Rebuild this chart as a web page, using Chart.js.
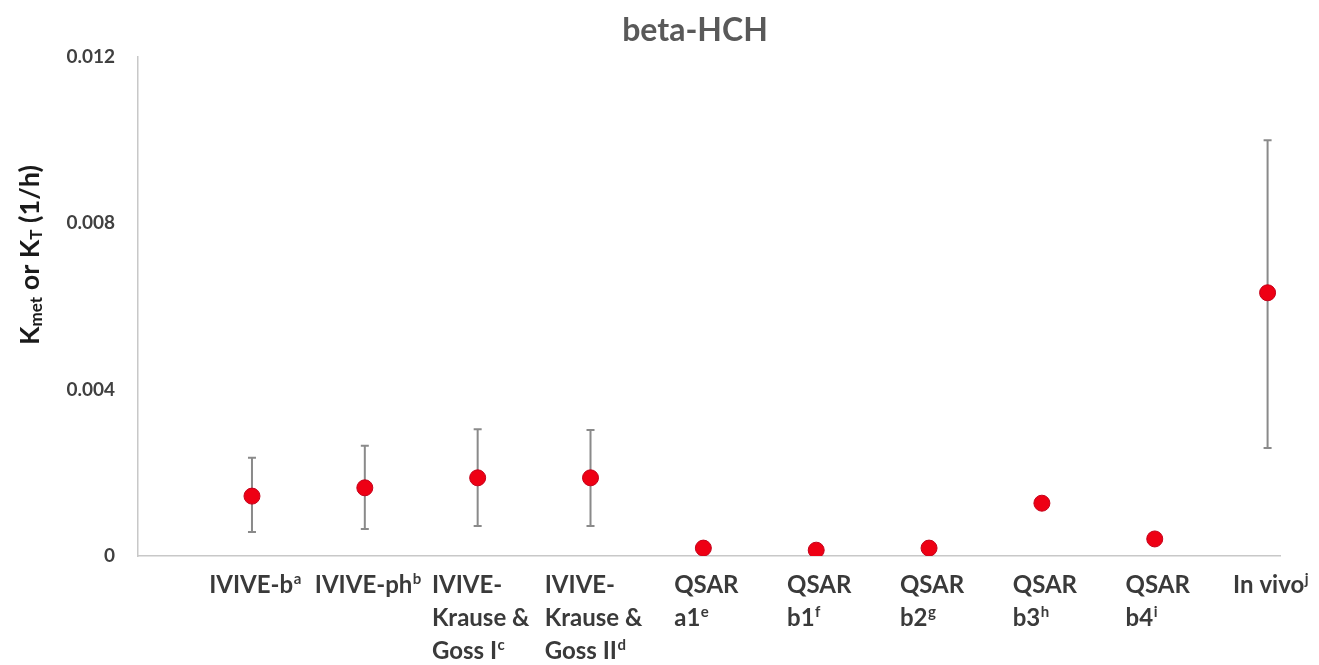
<!DOCTYPE html>
<html>
<head>
<meta charset="utf-8">
<script src="https://cdn.jsdelivr.net/npm/chart.js@4.4.1/dist/chart.umd.min.js"></script>
<style>
  html, body { margin: 0; padding: 0; background: #ffffff; }
  #wrap { width: 1319px; height: 665px; }
</style>
</head>
<body>
<div id="wrap"><canvas id="chart" width="1319" height="665"></canvas></div>
<script>
// Categories (lines separated by \n) and their footnote letters
const categories = [
  'IVIVE-b',
  'IVIVE-ph',
  'IVIVE-\nKrause &\nGoss I',
  'IVIVE-\nKrause &\nGoss II',
  'QSAR\na1',
  'QSAR\nb1',
  'QSAR\nb2',
  'QSAR\nb3',
  'QSAR\nb4',
  'In vivo'
];
const footnotes = ['a', 'b', 'c', 'd', 'e', 'f', 'g', 'h', 'i', 'j'];

// Kmet / KT estimates (1/h) with their ranges (null = no range)
const kValues = [0.00144, 0.00164, 0.00188, 0.00188, 0.00019, 0.00014, 0.00019, 0.00127, 0.00041, 0.00633];
const rangeLow = [0.00058, 0.00065, 0.00072, 0.00072, null, null, null, null, null, 0.00260];
const rangeHigh = [0.00236, 0.00265, 0.00305, 0.00303, null, null, null, null, null, 0.01000];

// Y axis ticks
const yTicks = [0, 0.004, 0.008, 0.012];

const chartTitle = 'beta-HCH';
const FONT = 'Lato, "Open Sans", sans-serif';

// Range whiskers behind the markers
const rangeBars = {
  id: 'rangeBars',
  beforeDatasetsDraw(chart) {
    const { ctx, scales: { x, y } } = chart;
    ctx.save();
    ctx.strokeStyle = '#8a8a8a';
    ctx.lineWidth = 2;
    kValues.forEach((v, i) => {
      if (rangeLow[i] === null) return;
      const px = x.getPixelForValue(i);
      const top = y.getPixelForValue(rangeHigh[i]);
      const bot = y.getPixelForValue(rangeLow[i]);
      ctx.beginPath();
      ctx.moveTo(px, top); ctx.lineTo(px, bot);
      ctx.moveTo(px - 4, top); ctx.lineTo(px + 4, top);
      ctx.moveTo(px - 4, bot); ctx.lineTo(px + 4, bot);
      ctx.stroke();
    });
    ctx.restore();
  }
};

// Category labels: left-aligned lines, footnote letter raised on the last line
const categoryLabels = {
  id: 'categoryLabels',
  afterDraw(chart) {
    const { ctx, scales: { x }, chartArea } = chart;
    const mainFont = 'bold 24px ' + FONT;
    const supFont = 'bold 15px ' + FONT;
    const lineH = 33;
    ctx.save();
    ctx.fillStyle = '#3a3a3a';
    ctx.textBaseline = 'middle';
    ctx.textAlign = 'left';
    categories.forEach((cat, i) => {
      const lines = cat.split('\n');
      ctx.font = mainFont;
      const widths = lines.map((ln, k) => {
        let w = ctx.measureText(ln).width;
        if (k === lines.length - 1) {
          ctx.font = supFont;
          w += ctx.measureText(footnotes[i]).width;
          ctx.font = mainFont;
        }
        return w;
      });
      const blockW = Math.max(...widths);
      const left = x.getPixelForValue(i) - blockW / 2 + 3;
      lines.forEach((ln, k) => {
        const cy = chartArea.bottom + 29 + k * lineH;
        ctx.font = mainFont;
        ctx.fillText(ln, left, cy);
        if (k === lines.length - 1) {
          const w = ctx.measureText(ln).width;
          ctx.font = supFont;
          ctx.fillText(footnotes[i], left + w + 0.5, cy - 6);
        }
      });
    });
    ctx.restore();
  }
};

// Chart heading, centred over the plot
const heading = {
  id: 'heading',
  afterDraw(chart) {
    const { ctx } = chart;
    ctx.save();
    ctx.font = 'bold 32px ' + FONT;
    ctx.fillStyle = '#595959';
    ctx.textAlign = 'center';
    ctx.textBaseline = 'middle';
    ctx.fillText(chartTitle, 695, 31);
    ctx.restore();
  }
};

// Rotated y-axis title with subscripts
const yTitle = {
  id: 'yTitle',
  afterDraw(chart) {
    const { ctx } = chart;
    const parts = [
      ['K', 'bold 27px ' + FONT, 0],
      ['met', 'bold 17px ' + FONT, 7],
      [' or K', 'bold 27px ' + FONT, 0],
      ['T', 'bold 17px ' + FONT, 7],
      [' (1/h)', 'bold 27px ' + FONT, 0]
    ];
    ctx.save();
    let total = 0;
    parts.forEach(p => { ctx.font = p[1]; total += ctx.measureText(p[0]).width; });
    ctx.translate(30, 255);
    ctx.rotate(-Math.PI / 2);
    ctx.fillStyle = '#1a1a1a';
    ctx.textBaseline = 'middle';
    ctx.textAlign = 'left';
    let cx = -total / 2;
    parts.forEach(p => {
      ctx.font = p[1];
      ctx.fillText(p[0], cx, p[2]);
      cx += ctx.measureText(p[0]).width;
    });
    ctx.restore();
  }
};

new Chart(document.getElementById('chart'), {
  type: 'scatter',
  data: {
    datasets: [{
      data: kValues.map((v, i) => ({ x: i, y: v })),
      backgroundColor: '#ee0014',
      borderColor: '#c4001a',
      borderWidth: 1,
      pointRadius: 8,
      pointHoverRadius: 8
    }]
  },
  options: {
    responsive: false,
    animation: false,
    layout: { padding: { left: 0, right: 39, top: 57, bottom: 0 } },
    plugins: {
      legend: { display: false },
      tooltip: { enabled: false },
      title: { display: false }
    },
    scales: {
      x: {
        type: 'linear',
        min: -1.01,
        max: 9.11,
        grid: { display: false },
        border: { display: true, color: '#c8c8c8', width: 1.5 },
        ticks: { display: false },
        afterFit(scale) { scale.height = 109; }
      },
      y: {
        min: 0,
        max: 0.012,
        grid: { display: false },
        border: { display: true, color: '#c8c8c8', width: 1.5 },
        afterBuildTicks(scale) { scale.ticks = yTicks.map(v => ({ value: v })); },
        ticks: {
          color: '#404040',
          padding: 15,
          font: { family: FONT, size: 19, weight: 'bold' },
          callback: v => (v === 0 ? '0' : v.toFixed(3))
        },
        afterFit(scale) { scale.width = 138; }
      }
    }
  },
  plugins: [rangeBars, categoryLabels, heading, yTitle]
});
</script>
</body>
</html>
